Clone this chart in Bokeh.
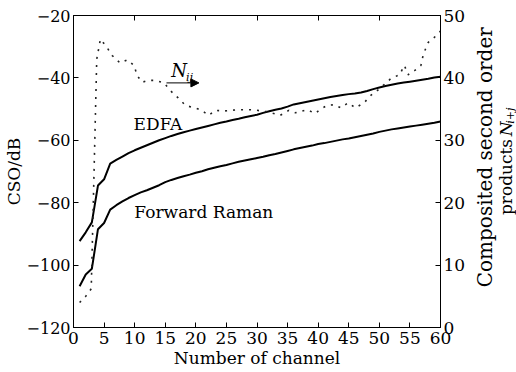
from bokeh.plotting import figure
from bokeh.layouts import row
from bokeh.models import Range1d, LinearAxis, Label, Arrow, NormalHead, FixedTicker
from bokeh.embed import file_html
from bokeh.resources import INLINE
import math

# ---------------- data ----------------
channels = list(range(1, 61))
edfa_cso = [-92.3, -89.5, -86.3, -74.5, -72.5, -67.5, -66.3, -65.2, -64.1, -63.2,
            -62.4, -61.6, -60.8, -60.0, -59.3, -58.6, -58.0, -57.4, -56.9, -56.4,
            -55.9, -55.4, -54.9, -54.4, -54.0, -53.5, -53.1, -52.6, -52.2, -51.8,
            -51.2, -50.7, -50.2, -49.8, -49.2, -48.5, -48.1, -47.7, -47.3, -46.9,
            -46.5, -46.1, -45.8, -45.5, -45.2, -45.0, -44.7, -44.2, -43.6, -43.1,
            -42.6, -42.2, -41.8, -41.5, -41.2, -40.9, -40.6, -40.3, -39.9, -39.6]
raman_cso = [-106.8, -103.0, -101.2, -88.5, -86.5, -82.2, -80.8, -79.6, -78.5, -77.6,
             -76.7, -76.0, -75.2, -74.4, -73.4, -72.7, -72.1, -71.5, -71.0, -70.4,
             -69.9, -69.3, -68.8, -68.3, -67.9, -67.4, -66.9, -66.5, -66.1, -65.7,
             -65.3, -64.8, -64.4, -63.9, -63.4, -62.9, -62.5, -62.1, -61.7, -61.2,
             -60.9, -60.5, -60.1, -59.7, -59.4, -59.0, -58.6, -58.2, -57.8, -57.3,
             -56.9, -56.5, -56.2, -55.9, -55.6, -55.3, -55.0, -54.7, -54.4, -54.0]
nij_channel = [1, 2, 2.9, 3.8, 4.4, 5.4, 6.3, 7.6, 8.8, 9.9, 10.4, 11.2, 12.3, 13.4,
               14.8, 15.9, 17.1, 18.3, 20.8, 22.1, 23.2, 24.6, 25.7, 26.8, 29.3, 31.5,
               33.8, 35.2, 36.3, 38.2, 39.5, 40.4, 41.5, 42.6, 43.7, 44.9, 46.1, 47.5,
               48.6, 49.7, 51.9, 53.3, 54.1, 54.7, 55.8, 56.8, 57.2, 58.0, 58.8, 60]
nij_count = [4.0, 5.0, 6.2, 43.0, 46.2, 45.0, 43.6, 42.4, 42.9, 42.0, 40.4, 39.3, 39.6, 39.6,
             39.2, 37.9, 36.8, 35.6, 34.9, 34.0, 34.8, 34.7, 34.8, 34.9, 34.9, 34.6,
             34.0, 34.8, 34.4, 34.9, 34.3, 35.0, 35.6, 35.7, 35.2, 36.0, 35.2, 36.0,
             37.2, 38.0, 39.9, 40.5, 42.0, 40.5, 41.2, 42.0, 43.8, 45.7, 46.3, 47.5]

x_ticks = [0, 5, 10, 15, 20, 25, 30, 35, 40, 45, 50, 55, 60]
top_ticks = [10, 20, 30, 40, 50]
left_ticks = [-120, -100, -80, -60, -40, -20]
right_ticks = [0, 10, 20, 30, 40, 50]

FONT = "DejaVu Serif"
FS = "17px"

p = figure(width=470, height=372, x_range=Range1d(0, 60), y_range=Range1d(-120, -20),
           output_backend="svg", toolbar_location=None,
           min_border_left=72, min_border_right=30, min_border_top=15, min_border_bottom=45)
p.extra_y_ranges = {"n": Range1d(0, 50)}
p.grid.visible = False
p.outline_line_color = "black"
p.background_fill_color = "white"
p.border_fill_color = "white"

bottom_axis = p.below[0]
left_axis = p.left[0]
right_axis = LinearAxis(y_range_name="n")
p.add_layout(right_axis, "right")
top_axis = LinearAxis()
p.add_layout(top_axis, "above")

bottom_axis.ticker = FixedTicker(ticks=x_ticks)
top_axis.ticker = FixedTicker(ticks=top_ticks)
left_axis.ticker = FixedTicker(ticks=left_ticks)
right_axis.ticker = FixedTicker(ticks=right_ticks)

left_axis.major_label_overrides = {t: ("\u2212" + str(-t)) for t in left_ticks}

for ax in [bottom_axis, top_axis, left_axis, right_axis]:
    ax.major_tick_in = 5
    ax.major_tick_out = 0
    ax.minor_tick_line_color = None
    ax.axis_line_color = "black"
    ax.major_tick_line_color = "black"
    ax.major_label_text_font = FONT
    ax.major_label_text_font_size = FS
    ax.major_label_text_color = "black"
    ax.major_label_standoff = 3
    ax.axis_label_text_font = FONT
    ax.axis_label_text_font_size = FS
    ax.axis_label_text_font_style = "normal"
    ax.axis_label_text_color = "black"
    ax.axis_label_standoff = 0

top_axis.major_label_overrides = {t: "" for t in top_ticks}
top_axis.major_label_standoff = 0
bottom_axis.axis_label = "Number of channel"
bottom_axis.major_label_standoff = 4
bottom_axis.axis_label_standoff = 1
left_axis.axis_label = "CSO/dB"
left_axis.major_label_text_font_size = "16px"
left_axis.major_label_standoff = 3
left_axis.axis_label_standoff = 0

# ---------------- series ----------------
p.line(channels, edfa_cso, line_color="black", line_width=2)
p.line(channels, raman_cso, line_color="black", line_width=2)
p.line(nij_channel, nij_count, y_range_name="n", line_color="#222222",
       line_width=1.6, line_dash="2 6")

# ---------------- annotations ----------------
p.add_layout(Label(x=13.8, y=-54.8, text="EDFA", text_align="center", text_baseline="middle",
                   text_font=FONT, text_font_size=FS, text_color="black"))
p.add_layout(Label(x=9.95, y=-83.0, text="Forward Raman", text_align="left", text_baseline="middle",
                   text_font=FONT, text_font_size=FS, text_color="black"))
p.add_layout(Label(x=16.0, y=-37.6, text="N", text_align="left", text_baseline="alphabetic",
                   text_font=FONT, text_font_size="18px", text_font_style="italic", text_color="black"))
p.add_layout(Label(x=18.4, y=-39.9, text="ij", text_align="left", text_baseline="alphabetic",
                   text_font=FONT, text_font_size="11px", text_font_style="italic", text_color="black"))
p.add_layout(Arrow(end=NormalHead(size=8, fill_color="black", line_color="black"),
                   x_start=15.2, y_start=-41.6, x_end=20.5, y_end=-41.6,
                   line_color="black", line_width=1))

# ---------------- right-hand title panel ----------------
q = figure(width=46, height=372, x_range=Range1d(470, 516), y_range=Range1d(372, 0),
           output_backend="svg", toolbar_location=None,
           x_axis_location=None, y_axis_location=None,
           min_border=0, min_border_left=0, min_border_right=0,
           min_border_top=0, min_border_bottom=0)
q.grid.visible = False
q.outline_line_color = None
q.background_fill_color = "white"
q.border_fill_color = "white"

q.add_layout(Label(x=484, y=169, text="Composited second order", angle=math.pi / 2,
                   text_align="center", text_baseline="middle",
                   text_font=FONT, text_font_size="20px", text_color="black"))
q.add_layout(Label(x=505, y=238, text="products", angle=math.pi / 2,
                   text_align="left", text_baseline="middle",
                   text_font=FONT, text_font_size=FS, text_color="black"))
q.add_layout(Label(x=505, y=144, text="N", angle=math.pi / 2,
                   text_align="left", text_baseline="middle",
                   text_font=FONT, text_font_size=FS, text_font_style="italic", text_color="black"))
q.add_layout(Label(x=510, y=129, text="i+j", angle=math.pi / 2,
                   text_align="left", text_baseline="middle",
                   text_font=FONT, text_font_size="11px", text_font_style="italic", text_color="black"))

layout = row(p, q, spacing=0)
open("out.html", "w").write(file_html(layout, INLINE))
